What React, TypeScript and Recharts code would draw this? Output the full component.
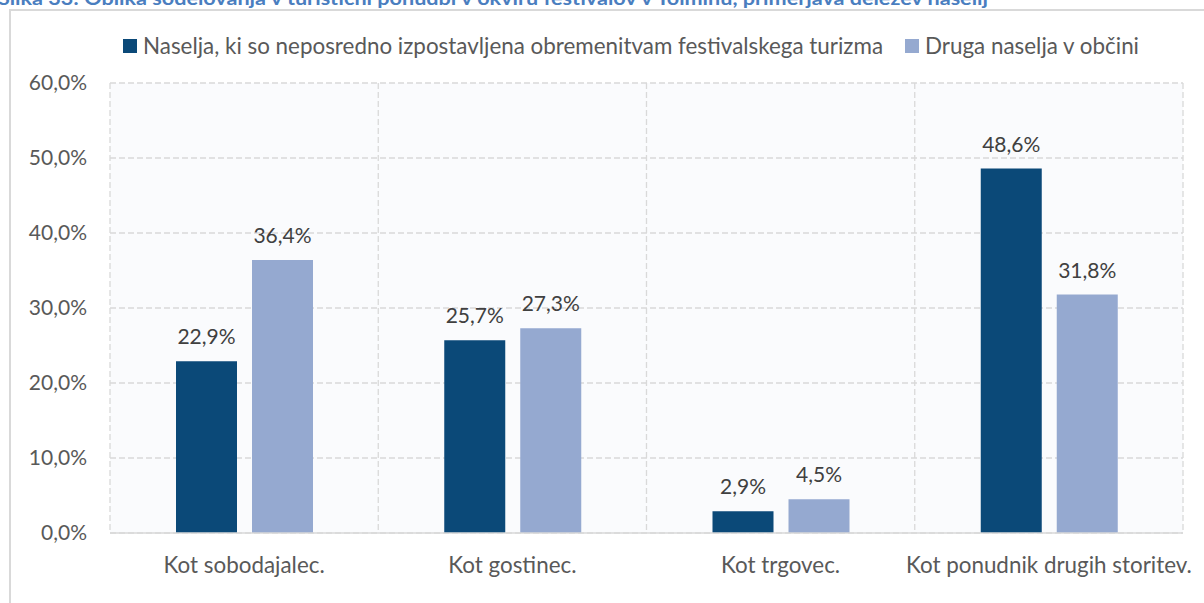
import React from 'react';
import { BarChart, Bar, XAxis, YAxis, CartesianGrid, LabelList } from 'recharts';

const title = 'Slika 33: Oblika sodelovanja v turistični ponudbi v okviru festivalov v Tolminu, primerjava deležev naselij';
const categories = ['Kot sobodajalec.', 'Kot gostinec.', 'Kot trgovec.', 'Kot ponudnik drugih storitev.'];
const exposedValues = [22.9, 25.7, 2.9, 48.6];
const otherValues = [36.4, 27.3, 4.5, 31.8];
const yTicks = [0, 10, 20, 30, 40, 50, 60];
const seriesNames = [
  'Naselja, ki so neposredno izpostavljena obremenitvam festivalskega turizma',
  'Druga naselja v občini',
];
const colors = ['#0B4978', '#95A9D0'];

const data = categories.map((c, i) => ({ name: c, exposed: exposedValues[i], other: otherValues[i] }));
const fmt = (v: number) => v.toFixed(1).replace('.', ',') + '%';

const FONT = 'Lato, "Open Sans", sans-serif';
const FS = 21;
const FS_TEXT = 22.4;

export default function App() {
  return (
    <div style={{ position: 'absolute', left: 0, top: 0, width: 1204, height: 603, overflow: 'hidden', background: '#fff' }}>
      <svg style={{ position: 'absolute', left: 0, top: 0 }} width={1204} height={20}>
        <text x={-2} y={5} fontFamily={FONT} fontWeight={700} fontSize={18} fill="#4A7EBF" textLength={990} lengthAdjust="spacingAndGlyphs">
          {title}
        </text>
      </svg>
      <div style={{ position: 'absolute', left: 9, top: 9, width: 1300, height: 700, borderLeft: '2px solid #D9D9D9', borderTop: '2px solid #D9D9D9' }} />
      <div style={{ position: 'absolute', left: 123, top: 33, display: 'flex', alignItems: 'center', fontFamily: FONT, fontSize: FS_TEXT, color: '#595959', whiteSpace: 'nowrap', lineHeight: '26px' }}>
        {seriesNames.map((n, i) => (
          <div key={i} style={{ display: 'flex', alignItems: 'center', marginRight: 22 }}>
            <span style={{ display: 'inline-block', width: 14, height: 14, background: colors[i], marginRight: 6 }} />
            <span>{n}</span>
          </div>
        ))}
      </div>
      <div style={{ position: 'absolute', left: 0, top: 0 }}>
        <BarChart
          width={1204}
          height={603}
          data={data}
          margin={{ top: 83, right: 21, left: 10, bottom: 20 }}
          barSize={61}
          barGap={15}
        >
          <CartesianGrid
            stroke="#D9D9D9"
            strokeDasharray="6 3"
            strokeWidth={1.3}
            fill="#FAFBFD"
            verticalCoordinatesGenerator={({ offset }: any) =>
              categories.map((_, i) => offset.left + (i * offset.width) / categories.length).concat([offset.left + offset.width])
            }
          />
          <XAxis
            dataKey="name"
            axisLine={{ stroke: '#D9D9D9', strokeWidth: 1.5 }}
            tickLine={false}
            tickSize={0}
            tickMargin={24}
            height={50}
            interval={0}
            tick={{ fill: '#595959', fontSize: FS_TEXT, fontFamily: FONT }}
          />
          <YAxis
            domain={[0, 60]}
            ticks={yTicks}
            tickFormatter={fmt}
            axisLine={false}
            tickLine={false}
            tickSize={0}
            tickMargin={23}
            width={100}
            interval={0}
            tick={{ fill: '#595959', fontSize: FS, fontFamily: FONT }}
          />
          <Bar dataKey="exposed" name={seriesNames[0]} fill={colors[0]} isAnimationActive={false}>
            <LabelList dataKey="exposed" position="top" offset={17} formatter={(v: any) => fmt(Number(v))} fill="#404040" fontSize={FS} fontFamily={FONT} />
          </Bar>
          <Bar dataKey="other" name={seriesNames[1]} fill={colors[1]} isAnimationActive={false}>
            <LabelList dataKey="other" position="top" offset={17} formatter={(v: any) => fmt(Number(v))} fill="#404040" fontSize={FS} fontFamily={FONT} />
          </Bar>
        </BarChart>
      </div>
    </div>
  );
}
